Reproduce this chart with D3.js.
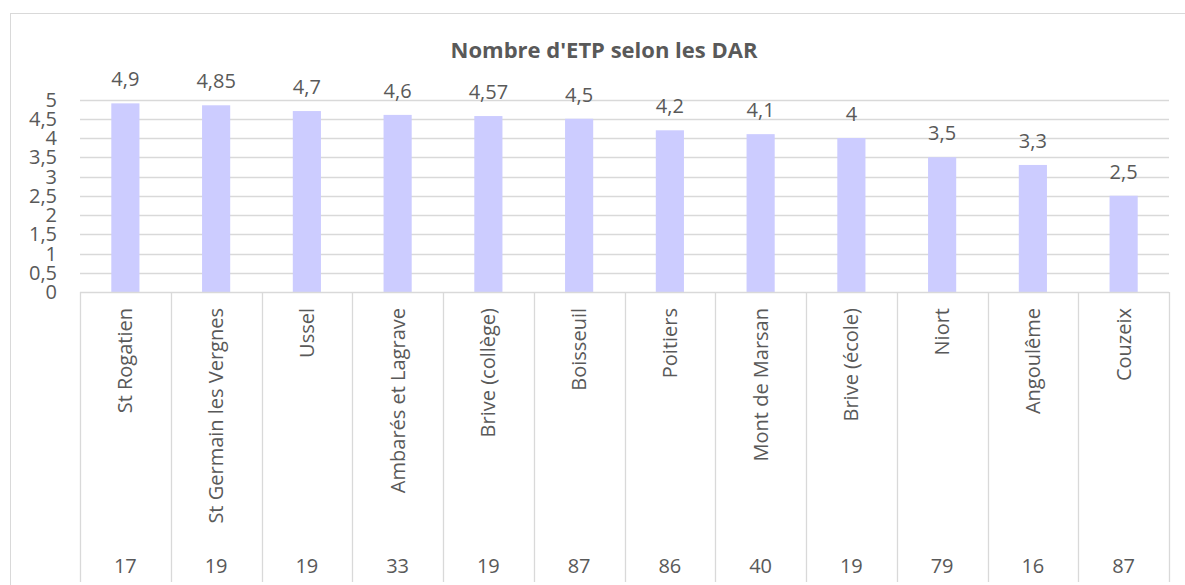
<!DOCTYPE html>
<html>
<head>
<meta charset="utf-8">
<script src="https://cdn.jsdelivr.net/npm/d3@7"></script>
<style>
  body { margin: 0; background: #fff; }
  text { font-family: "Open Sans", "Liberation Sans", sans-serif; fill: #595959; }
</style>
</head>
<body>
<svg id="chart" width="1185" height="585"></svg>
<script>
// data
var sites = ["St Rogatien", "St Germain les Vergnes", "Ussel", "Ambarés et Lagrave", "Brive (collège)",
             "Boisseuil", "Poitiers", "Mont de Marsan", "Brive (école)", "Niort", "Angoulême", "Couzeix"];
var depts = ["17", "19", "19", "33", "19", "87", "86", "40", "19", "79", "16", "87"];
var etp = [4.9, 4.85, 4.7, 4.6, 4.57, 4.5, 4.2, 4.1, 4, 3.5, 3.3, 2.5];
var yTicks = [0, 0.5, 1, 1.5, 2, 2.5, 3, 3.5, 4, 4.5, 5];

var svg = d3.select("#chart");
var fmt = function(v) { return String(v).replace(".", ","); };
var fs = "20px";

// chart frame
svg.append("rect")
    .attr("x", 10.5).attr("y", 13.5)
    .attr("width", 1186).attr("height", 580)
    .attr("fill", "none").attr("stroke", "#d9d9d9");

var plotL = 80, plotR = 1169, plotT = 99.5, plotZero = 292, catBottom = 582;

var x = d3.scaleBand().domain(d3.range(sites.length)).range([plotL, plotR]).paddingInner(0.69).paddingOuter(0.345);
var xCat = d3.scaleBand().domain(d3.range(sites.length)).range([plotL, plotR]);
var y = d3.scaleLinear().domain([0, 5]).range([plotZero, plotT]);

// gridlines
svg.append("g").selectAll("line").data(yTicks.slice(1)).enter().append("line")
    .attr("x1", plotL).attr("x2", plotR)
    .attr("y1", function(d) { return Math.round(y(d)) + 0.5; })
    .attr("y2", function(d) { return Math.round(y(d)) + 0.5; })
    .attr("stroke", "#d9d9d9").attr("stroke-width", 1.3);

// y labels
svg.append("g").selectAll("text").data(yTicks).enter().append("text")
    .attr("x", 57).attr("y", function(d) { return y(d); })
    .attr("dy", "0.35em")
    .attr("text-anchor", "end")
    .style("font-size", fs)
    .text(fmt);

// bars
svg.append("g").selectAll("rect").data(etp).enter().append("rect")
    .attr("x", function(d, i) { return x(i); })
    .attr("y", function(d) { return y(d); })
    .attr("width", x.bandwidth())
    .attr("height", function(d) { return plotZero - y(d); })
    .attr("fill", "#ccccff");

// value labels
svg.append("g").selectAll("text").data(etp).enter().append("text")
    .attr("x", function(d, i) { return xCat(i) + xCat.bandwidth() / 2; })
    .attr("y", function(d) { return y(d) - 17; })
    .attr("text-anchor", "middle")
    .style("font-size", fs)
    .text(fmt);

// category axis: base line and separators
svg.append("line")
    .attr("x1", plotL).attr("x2", plotR)
    .attr("y1", plotZero + 0.5).attr("y2", plotZero + 0.5)
    .attr("stroke", "#d9d9d9").attr("stroke-width", 1.3);
svg.append("g").selectAll("line").data(d3.range(sites.length + 1)).enter().append("line")
    .attr("x1", function(i) { return Math.round(plotL + i * xCat.step()) + 0.5; })
    .attr("x2", function(i) { return Math.round(plotL + i * xCat.step()) + 0.5; })
    .attr("y1", plotZero).attr("y2", catBottom)
    .attr("stroke", "#d9d9d9").attr("stroke-width", 1.3);

// site names, rotated
svg.append("g").selectAll("text").data(sites).enter().append("text")
    .attr("transform", function(d, i) {
      return "translate(" + (xCat(i) + xCat.bandwidth() / 2) + "," + 308 + ") rotate(-90)";
    })
    .attr("dy", "0.35em")
    .attr("text-anchor", "end")
    .style("font-size", fs)
    .text(function(d) { return d; });

// department numbers
svg.append("g").selectAll("text").data(depts).enter().append("text")
    .attr("x", function(d, i) { return xCat(i) + xCat.bandwidth() / 2; })
    .attr("y", 573)
    .attr("text-anchor", "middle")
    .style("font-size", fs)
    .text(function(d) { return d; });

// title
svg.append("text")
    .attr("x", 604).attr("y", 58)
    .attr("text-anchor", "middle")
    .style("font-size", "22px").style("font-weight", "bold")
    .text("Nombre d'ETP selon les DAR");
</script>
</body>
</html>
